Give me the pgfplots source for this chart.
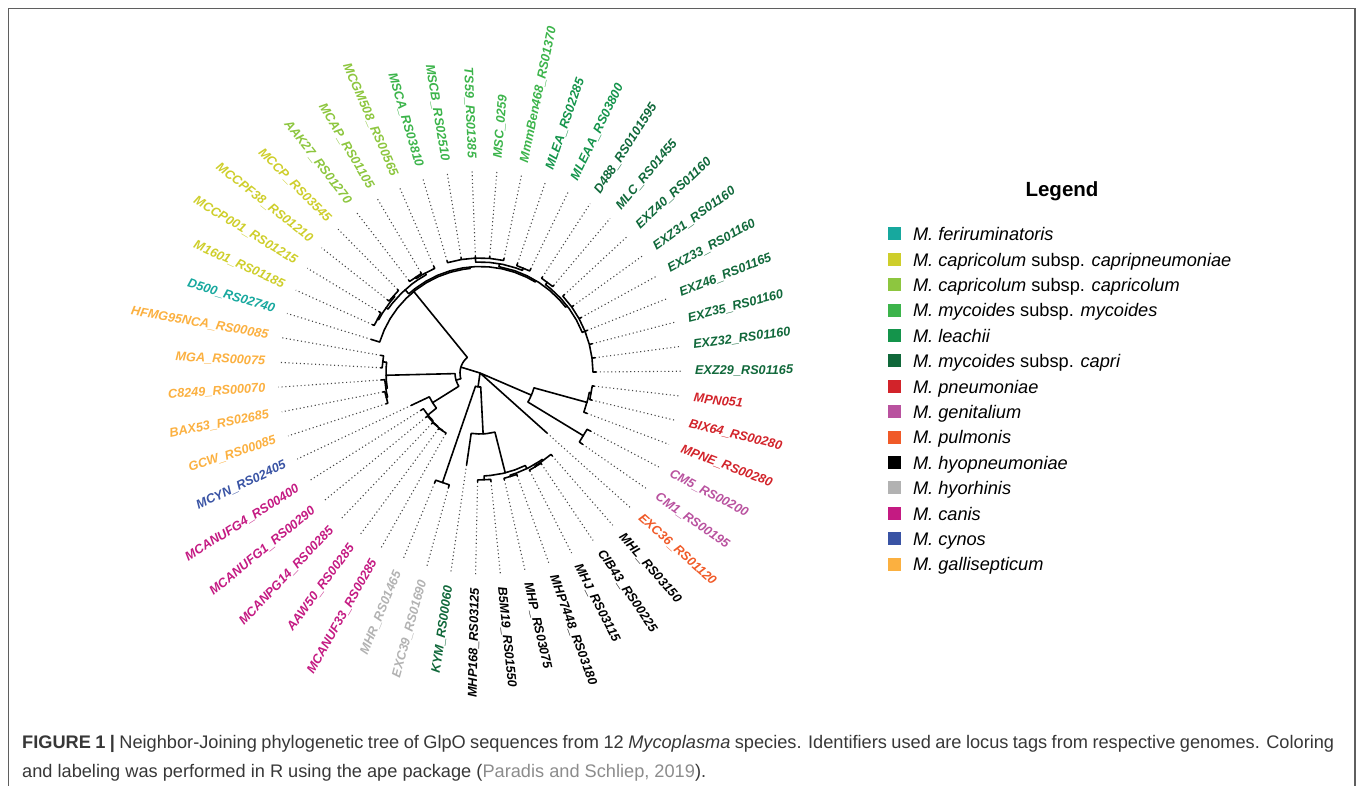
\documentclass[border=0pt]{standalone}
\usepackage{pgfplots}
\pgfplotsset{compat=1.18}
\usepgfplotslibrary{polar}
\usepackage{fontspec}
\setmainfont{Liberation Sans}
\definecolor{cFer}{RGB}{23,168,158}
\definecolor{cCcp}{RGB}{206,206,43}
\definecolor{cCc}{RGB}{141,198,63}
\definecolor{cMm}{RGB}{60,180,75}
\definecolor{cLea}{RGB}{20,148,75}
\definecolor{cCap}{RGB}{16,104,58}
\definecolor{cPne}{RGB}{210,35,42}
\definecolor{cGen}{RGB}{185,82,159}
\definecolor{cPul}{RGB}{240,90,40}
\definecolor{cHyo}{RGB}{0,0,0}
\definecolor{cHyr}{RGB}{178,178,178}
\definecolor{cCan}{RGB}{196,26,130}
\definecolor{cCyn}{RGB}{57,83,164}
\definecolor{cGal}{RGB}{251,176,64}
\definecolor{capt}{RGB}{55,55,55}
\definecolor{cite}{RGB}{140,140,140}
\definecolor{frame}{RGB}{95,95,95}
\pgfplotsset{
  br/.style={data cs=polar, black, line width=1.6pt, line join=round, line cap=round, mark=none},
  dt/.style={data cs=polar, color={rgb,255:red,70;green,70;blue,70}, line width=1.1pt, dash pattern=on 1.1pt off 2.7pt, mark=none},
}
\tikzset{lbl/.style={font=\fontsize{12.7pt}{15pt}\selectfont\bfseries\itshape, inner sep=0pt}}
\newcommand\tipR[3]{\node[lbl,text=#2,rotate=#1,anchor=west] at (#1:215pt) {#3};}
\newcommand\tipL[3]{\node[lbl,text=#2,rotate=#1-180,anchor=east] at (#1:215pt) {#3};}
\begin{document}
\begin{tikzpicture}[x=1pt,y=1pt]
\begin{axis}[x=1pt,y=1pt,xmin=-480,xmax=877,ymin=-412,ymax=373,
  hide axis,anchor=origin,at={(480pt,412pt)},clip=false,
  legend image code/.code={\fill[#1] (0pt,-6.5pt) rectangle (13pt,6.5pt);},
  legend style={at={(0.6544,0.7104)},anchor=north west,draw=none,fill=none,
    inner sep=0pt,outer sep=0pt,row sep=12.1pt,column sep=12pt,
    font=\fontsize{18.2pt}{22pt}\selectfont\itshape,cells={anchor=west},
    nodes={inner sep=0pt,text height=13.3pt,text depth=0pt}},
]
% legend
\addlegendimage{fill=cFer,draw=none}\addlegendentry{M. feriruminatoris}
\addlegendimage{fill=cCcp,draw=none}\addlegendentry{M. capricolum \textup{subsp.} capripneumoniae}
\addlegendimage{fill=cCc,draw=none}\addlegendentry{M. capricolum \textup{subsp.} capricolum}
\addlegendimage{fill=cMm,draw=none}\addlegendentry{M. mycoides \textup{subsp.} mycoides}
\addlegendimage{fill=cLea,draw=none}\addlegendentry{M. leachii}
\addlegendimage{fill=cCap,draw=none}\addlegendentry{M. mycoides \textup{subsp.} capri}
\addlegendimage{fill=cPne,draw=none}\addlegendentry{M. pneumoniae}
\addlegendimage{fill=cGen,draw=none}\addlegendentry{M. genitalium}
\addlegendimage{fill=cPul,draw=none}\addlegendentry{M. pulmonis}
\addlegendimage{fill=cHyo,draw=none}\addlegendentry{M. hyopneumoniae}
\addlegendimage{fill=cHyr,draw=none}\addlegendentry{M. hyorhinis}
\addlegendimage{fill=cCan,draw=none}\addlegendentry{M. canis}
\addlegendimage{fill=cCyn,draw=none}\addlegendentry{M. cynos}
\addlegendimage{fill=cGal,draw=none}\addlegendentry{M. gallisepticum}
% dotted leaders: (angle, tip radius) -> (angle, 202)
\addplot[dt] coordinates {(0.50,116)(0.50,202)};
\addplot[dt] coordinates {(7.56,116)(7.56,202)};
\addplot[dt] coordinates {(14.62,116)(14.62,202)};
\addplot[dt] coordinates {(21.68,115.5)(21.68,202)};
\addplot[dt] coordinates {(28.74,115.5)(28.74,202)};
\addplot[dt] coordinates {(35.79,115)(35.79,202)};
\addplot[dt] coordinates {(42.85,115)(42.85,202)};
\addplot[dt] coordinates {(49.91,114.5)(49.91,202)};
\addplot[dt] coordinates {(56.97,114.5)(56.97,202)};
\addplot[dt] coordinates {(64.03,116)(64.03,202)};
\addplot[dt] coordinates {(71.09,116)(71.09,202)};
\addplot[dt] coordinates {(78.15,117)(78.15,202)};
\addplot[dt] coordinates {(85.21,117)(85.21,202)};
\addplot[dt] coordinates {(92.26,117)(92.26,202)};
\addplot[dt] coordinates {(99.32,117)(99.32,202)};
\addplot[dt] coordinates {(106.38,117)(106.38,202)};
\addplot[dt] coordinates {(113.44,116.5)(113.44,202)};
\addplot[dt] coordinates {(120.50,117)(120.50,202)};
\addplot[dt] coordinates {(127.56,117)(127.56,202)};
\addplot[dt] coordinates {(134.62,117.5)(134.62,202)};
\addplot[dt] coordinates {(141.68,118)(141.68,202)};
\addplot[dt] coordinates {(148.74,118)(148.74,202)};
\addplot[dt] coordinates {(155.79,118)(155.79,202)};
\addplot[dt] coordinates {(162.85,114)(162.85,202)};
\addplot[dt] coordinates {(169.91,101)(169.91,202)};
\addplot[dt] coordinates {(176.97,99.5)(176.97,202)};
\addplot[dt] coordinates {(184.03,99)(184.03,202)};
\addplot[dt] coordinates {(191.09,99)(191.09,202)};
\addplot[dt] coordinates {(198.15,99)(198.15,202)};
\addplot[dt] coordinates {(205.21,76)(205.21,202)};
\addplot[dt] coordinates {(212.26,70)(212.26,202)};
\addplot[dt] coordinates {(219.32,70)(219.32,202)};
\addplot[dt] coordinates {(226.38,70)(226.38,202)};
\addplot[dt] coordinates {(233.44,70)(233.44,202)};
\addplot[dt] coordinates {(240.50,70)(240.50,202)};
\addplot[dt] coordinates {(247.56,119)(247.56,202)};
\addplot[dt] coordinates {(254.62,119)(254.62,202)};
\addplot[dt] coordinates {(261.68,93)(261.68,202)};
\addplot[dt] coordinates {(268.74,109)(268.74,202)};
\addplot[dt] coordinates {(275.79,109)(275.79,202)};
\addplot[dt] coordinates {(282.85,109.5)(282.85,202)};
\addplot[dt] coordinates {(289.91,109.5)(289.91,202)};
\addplot[dt] coordinates {(296.97,110)(296.97,202)};
\addplot[dt] coordinates {(304.03,110)(304.03,202)};
\addplot[dt] coordinates {(311.09,110)(311.09,202)};
\addplot[dt] coordinates {(318.15,90)(318.15,202)};
\addplot[dt] coordinates {(325.21,125)(325.21,202)};
\addplot[dt] coordinates {(332.26,125)(332.26,202)};
\addplot[dt] coordinates {(339.32,114.5)(339.32,202)};
\addplot[dt] coordinates {(346.38,115)(346.38,202)};
\addplot[dt] coordinates {(353.44,115)(353.44,202)};
% tree edges (angle, radius)
\addplot[br] coordinates {(0.5,116)(0.5,113)(7.56,113)(7.56,116)(7.56,113)(14.62,113)(14.62,116)(14.62,113)(21.68,113)(21.68,115.5)(21.68,113)(28.74,113)(28.74,115.5)(28.74,113)(35.79,113)(35.79,115)(35.79,113)(42.85,113)(42.85,115)};
\addplot[br] coordinates {(49.91,114.5)(49.91,113)(56.97,113)(56.97,114.5)};
\addplot[br] coordinates {(21.67,113)(21.67,110)(28.74,110)(35.79,110)(42.85,110)(49.91,110)(53.44,110)(53.44,113)};
\addplot[br] coordinates {(64.03,116)(64.03,113.5)(71.09,113.5)(71.09,116)};
\addplot[br] coordinates {(78.15,117)(78.15,115)(85.21,115)(85.21,117)(85.21,115)(92.26,115)(92.26,117)(92.26,115)(99.32,115)(99.32,117)(99.32,115)(106.38,115)(106.38,117)};
\addplot[br] coordinates {(67.56,113.5)(67.56,111)(71.09,111)(78.15,111)(85.21,111)(92.27,111)(92.27,115)};
\addplot[br] coordinates {(37.56,110)(37.56,108)(42.85,108)(49.91,108)(56.97,108)(64.03,108)(71.09,108)(79.9,108)(79.9,111)};
\addplot[br] coordinates {(120.5,117)(120.5,115.5)(127.56,115.5)(127.56,117)};
\addplot[br] coordinates {(113.44,116.5)(113.44,114)(120.5,114)(124.03,114)(124.03,115.5)};
\addplot[br] coordinates {(134.62,117.5)(134.62,116)(141.68,116)(141.68,118)};
\addplot[br] coordinates {(148.74,118)(148.74,116)(155.79,116)(155.79,118)};
\addplot[br] coordinates {(138.15,116)(138.15,114.5)(141.68,114.5)(148.74,114.5)(152.27,114.5)(152.27,116)};
\addplot[br] coordinates {(118.74,114)(118.74,112)(124.03,112)(127.56,112)(134.62,112)(141.68,112)(145.21,112)(145.21,114.5)};
\addplot[br] coordinates {(58.73,108)(58.73,106.5)(64.03,106.5)(71.09,106.5)(78.15,106.5)(85.21,106.5)(92.26,106.5)(99.32,106.5)(106.38,106.5)(113.44,106.5)(120.5,106.5)(127.56,106.5)(131.98,106.5)(131.98,112)};
\addplot[br] coordinates {(95.36,106.5)(95.36,105)(99.32,105)(106.38,105)(113.44,105)(120.5,105)(127.56,105)(134.62,105)(141.68,105)(148.74,105)(155.79,105)(162.85,105)(162.85,114)};
\addplot[br] coordinates {(169.91,101)(169.91,98)(176.97,98)(176.97,99.5)};
\addplot[br] coordinates {(191.09,99)(191.09,97)(198.15,97)(198.15,99)};
\addplot[br] coordinates {(184.03,99)(184.03,95.5)(191.09,95.5)(194.62,95.5)(194.62,97)};
\addplot[br] coordinates {(173.44,98)(173.44,94)(176.97,94)(184.03,94)(189.33,94)(189.33,95.5)};
\addplot[br] coordinates {(233.44,70)(233.44,69)(240.5,69)(240.5,70)};
\addplot[br] coordinates {(226.38,70)(226.38,68.5)(233.44,68.5)(236.97,68.5)(236.97,69)};
\addplot[br] coordinates {(219.32,70)(219.32,68)(226.38,68)(231.68,68)(231.68,68.5)};
\addplot[br] coordinates {(212.26,70)(212.26,67)(219.32,67)(225.5,67)(225.5,68)};
\addplot[br] coordinates {(205.21,76)(205.21,56)(212.26,56)(218.88,56)(218.88,67)};
\addplot[br] coordinates {(181.39,94)(181.39,25)(184.03,25)(191.09,25)(198.15,25)(205.21,25)(212.05,25)(212.05,56)};
\addplot[br] coordinates {(129.1,105)(129.1,20)(134.62,20)(141.68,20)(148.74,20)(155.79,20)(162.85,20)(169.91,20)(176.97,20)(184.03,20)(191.09,20)(196.72,20)(196.72,25)};
\addplot[br] coordinates {(247.56,119)(247.56,116)(254.62,116)(254.62,119)};
\addplot[br] coordinates {(268.74,109)(268.74,107)(275.79,107)(275.79,109)};
\addplot[br] coordinates {(282.85,109.5)(282.85,108)(289.91,108)(289.91,109.5)};
\addplot[br] coordinates {(296.97,110)(296.97,109)(304.03,109)(304.03,110)};
\addplot[br] coordinates {(300.5,109)(300.5,108)(304.03,108)(311.09,108)(311.09,110)};
\addplot[br] coordinates {(286.38,108)(286.38,106.5)(289.91,106.5)(296.97,106.5)(304.03,106.5)(305.8,106.5)(305.8,108)};
\addplot[br] coordinates {(272.27,107)(272.27,103)(275.79,103)(282.85,103)(289.91,103)(296.09,103)(296.09,106.5)};
\addplot[br] coordinates {(261.68,93)(261.68,61)(268.74,61)(275.79,61)(284.18,61)(284.18,103)};
\addplot[br] coordinates {(251.09,116)(251.09,14)(254.62,14)(261.68,14)(268.74,14)(272.93,14)(272.93,61)};
\addplot[br] coordinates {(325.21,125)(325.21,121)(332.26,121)(332.26,125)};
\addplot[br] coordinates {(346.38,115)(346.38,113)(353.44,113)(353.44,115)};
\addplot[br] coordinates {(339.32,114.5)(339.32,111)(346.38,111)(349.91,111)(349.91,113)};
\addplot[br] coordinates {(328.74,121)(328.74,56)(332.26,56)(339.32,56)(344.62,56)(344.62,111)};
\addplot[br] coordinates {(162.91,20)(0,0)(262.01,14)(0,0)(318.15,90)(0,0)(336.68,56)};
\end{axis}
% tip labels
\begin{scope}[shift={(480pt,412pt)}]
\tipR{0.50}{cCap}{EXZ29\_RS01165}
\tipR{7.56}{cCap}{EXZ32\_RS01160}
\tipR{14.62}{cCap}{EXZ35\_RS01160}
\tipR{21.68}{cCap}{EXZ46\_RS01165}
\tipR{28.74}{cCap}{EXZ33\_RS01160}
\tipR{35.79}{cCap}{EXZ31\_RS01160}
\tipR{42.85}{cCap}{EXZ40\_RS01160}
\tipR{49.91}{cCap}{MLC\_RS01455}
\tipR{56.97}{cCap}{D488\_RS0101595}
\tipR{64.03}{cLea}{MLEAA\_RS03800}
\tipR{71.09}{cLea}{MLEA\_RS02285}
\tipR{78.15}{cMm}{MmmBen468\_RS01370}
\tipR{85.21}{cMm}{MSC\_0259}
\tipL{92.26}{cMm}{TS59\_RS01385}
\tipL{99.32}{cMm}{MSCB\_RS02510}
\tipL{106.38}{cMm}{MSCA\_RS03810}
\tipL{113.44}{cCc}{MCGM508\_RS00565}
\tipL{120.50}{cCc}{MCAP\_RS01105}
\tipL{127.56}{cCc}{AAK27\_RS01270}
\tipL{134.62}{cCcp}{MCCP\_RS03545}
\tipL{141.68}{cCcp}{MCCPF38\_RS01210}
\tipL{148.74}{cCcp}{MCCP001\_RS01215}
\tipL{155.79}{cCcp}{M1601\_RS01185}
\tipL{162.85}{cFer}{D500\_RS02740}
\tipL{169.91}{cGal}{HFMG95NCA\_RS00085}
\tipL{176.97}{cGal}{MGA\_RS00075}
\tipL{184.03}{cGal}{C8249\_RS00070}
\tipL{191.09}{cGal}{BAX53\_RS02685}
\tipL{198.15}{cGal}{GCW\_RS00085}
\tipL{205.21}{cCyn}{MCYN\_RS02405}
\tipL{212.26}{cCan}{MCANUFG4\_RS00400}
\tipL{219.32}{cCan}{MCANUFG1\_RS00290}
\tipL{226.38}{cCan}{MCANPG14\_RS00285}
\tipL{233.44}{cCan}{AAW50\_RS00285}
\tipL{240.50}{cCan}{MCANUF33\_RS00285}
\tipL{247.56}{cHyr}{MHR\_RS01465}
\tipL{254.62}{cHyr}{EXC39\_RS01690}
\tipL{261.68}{cCap}{KYM\_RS00060}
\tipL{268.74}{cHyo}{MHP168\_RS03125}
\tipR{275.79}{cHyo}{B5M19\_RS01550}
\tipR{282.85}{cHyo}{MHP\_RS03075}
\tipR{289.91}{cHyo}{MHP7448\_RS03180}
\tipR{296.97}{cHyo}{MHJ\_RS03115}
\tipR{304.03}{cHyo}{CIB43\_RS00225}
\tipR{311.09}{cHyo}{MHL\_RS03150}
\tipR{318.15}{cPul}{EXC36\_RS01120}
\tipR{325.21}{cGen}{CM1\_RS00195}
\tipR{332.26}{cGen}{CM5\_RS00200}
\tipR{339.32}{cPne}{MPNE\_RS00280}
\tipR{346.38}{cPne}{BIX64\_RS00280}
\tipR{353.44}{cPne}{MPN051}
\end{scope}
% legend title
\node[anchor=base,inner sep=0pt,font=\fontsize{20.5pt}{24pt}\selectfont\bfseries] at (1062pt,588pt) {Legend};
% frame
\draw[line width=1.6pt,draw=frame] (8.5pt,-10pt) -- (8.5pt,776.5pt) -- (1355.2pt,776.5pt) -- (1355.2pt,-10pt);
% caption
\node[anchor=base west,inner sep=0pt,text=capt,font=\fontsize{18.2pt}{29pt}\selectfont] at (22pt,37pt)
 {\makebox[1312pt][s]{\textbf{FIGURE 1 |} Neighbor-Joining phylogenetic tree of GlpO sequences from 12 \textit{Mycoplasma} species. Identifiers used are locus tags from respective genomes. Coloring}};
\node[anchor=base west,inner sep=0pt,text=capt,font=\fontsize{18.2pt}{29pt}\selectfont] at (22pt,8pt)
 {and labeling was performed in R using the ape package (\textcolor{cite}{Paradis and Schliep, 2019}).};
\pgfresetboundingbox
\useasboundingbox (0pt,0pt) rectangle (1357pt,785pt);
\end{tikzpicture}
\end{document}
